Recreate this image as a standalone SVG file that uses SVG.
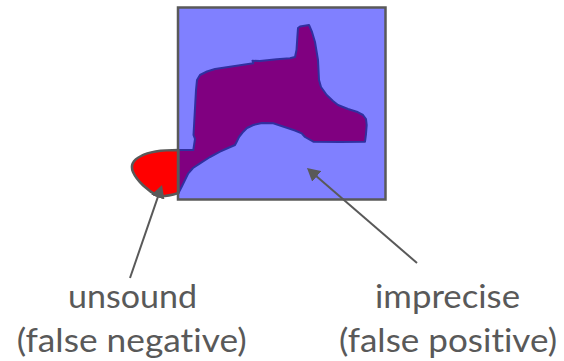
<svg xmlns="http://www.w3.org/2000/svg" width="564" height="361" viewBox="0 0 564 361">
  <style>
    .lbl { font-family: Lato, "Open Sans", "Liberation Sans", sans-serif; font-size: 33px; fill: #595959; text-anchor: middle; font-variant-ligatures: none; font-feature-settings: "liga" 0, "clig" 0; }
    .conn { stroke: #595959; stroke-width: 2; fill: none; marker-end: url(#arrow); }
  </style>
  <defs>
    <marker id="arrow" markerUnits="userSpaceOnUse" markerWidth="14" markerHeight="14" refX="7" refY="7" orient="auto">
      <path d="M0,0 L13,7 L0,14 z" fill="#595959"/>
    </marker>
  </defs>
  <rect width="564" height="361" fill="#ffffff"/>
  <g id="approximation">
    <rect x="178" y="7.5" width="207.5" height="192" fill="#8080FF"/>
  </g>
  <g id="true-behaviour">
    <path d="M178.3,150 L193.3,150 L195,139 L193.5,135 L196,90 L197,80 L200,75 L207,71.5 L215,69 L230,66.7 L245,64.5 L253.3,63.3 L252.5,60.8 L260,61 L276.7,59.3 L290,58.3 L295,57 L296.5,50 L297.5,35 L298,28 L300,26.5 L309,25 L312,32 L315,42 L318,60 L319,80 L321,87 L326.7,95 L333,101 L338,105 L348,109 L356.7,111.7 L363,115 L366,119 L366.7,125 L366,134 L365,141.7 L340,142 L313.3,141.7 L305,137 L301.7,133.3 L295,130.5 L288.3,128.3 L280,125.5 L273.3,123.3 L262,123 L253.3,125 L247,128 L243.3,131.7 L239,137 L236.7,141.7 L235,145 L228,148 L220,151.7 L210,157 L200,163.3 L193,168 L188.3,173.3 L185,180 L181.7,186.7 L178.3,193.3 Z" fill="#800080" stroke="#3030A0" stroke-width="2" stroke-linejoin="round"/>
  </g>
  <g id="unsound-region">
    <path d="M178.3,150 C165,150 150,151 141,156 C133,160 130,165 133,172 C137,181 148,191 158,196 C165,197 172,195 178.3,193 Z" fill="#FF0000" stroke="#595959" stroke-width="2.5" stroke-linejoin="round"/>
  </g>
  <g id="approximation-border">
    <rect x="178" y="7.5" width="207.5" height="192" fill="none" stroke="#595959" stroke-width="2.5"/>
  </g>
  <g id="connectors">
    <line class="conn" x1="130" y1="278" x2="160.05" y2="190.67"/>
    <line class="conn" x1="417" y1="263" x2="311.5" y2="171.9"/>
  </g>
  <g id="label-unsound">
    <text class="lbl" x="132.5" y="308" textLength="129" lengthAdjust="spacingAndGlyphs">unsound</text>
    <text class="lbl" x="131.7" y="352" textLength="230" lengthAdjust="spacingAndGlyphs">(false negative)</text>
  </g>
  <g id="label-imprecise">
    <text class="lbl" x="447.5" y="308" textLength="145" lengthAdjust="spacingAndGlyphs">imprecise</text>
    <text class="lbl" x="448" y="352" textLength="218" lengthAdjust="spacingAndGlyphs">(false positive)</text>
  </g>
</svg>
